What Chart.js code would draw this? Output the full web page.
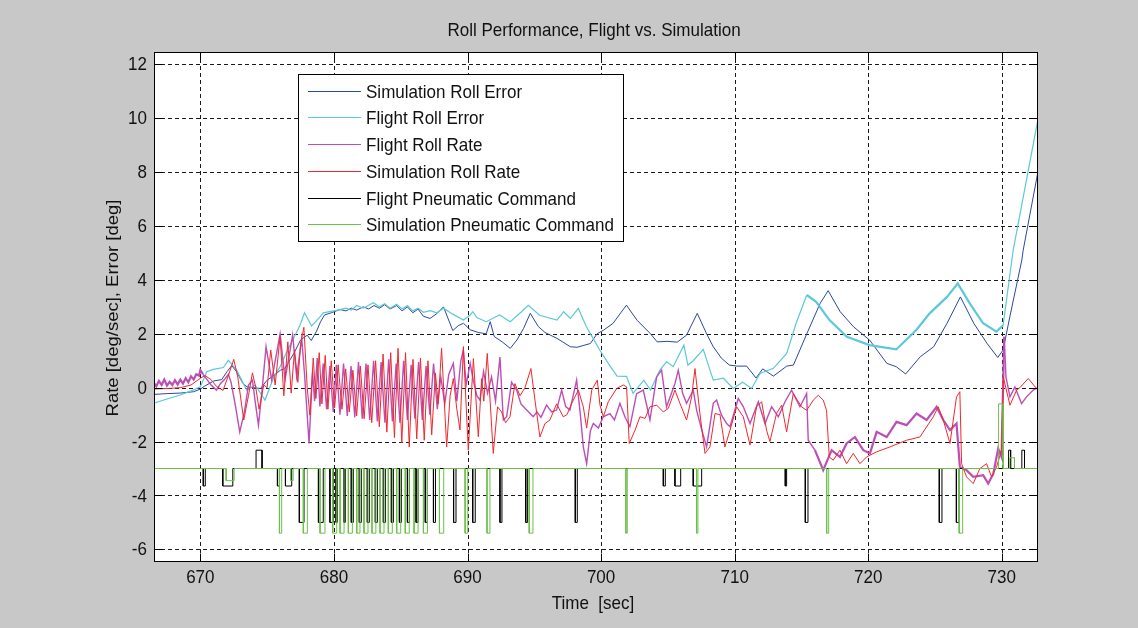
<!DOCTYPE html>
<html>
<head>
<meta charset="utf-8">
<script src="https://cdn.jsdelivr.net/npm/chart.js@4.4.0/dist/chart.umd.min.js"></script>
<style>
  html, body { margin: 0; padding: 0; background: #c8c8c8; }
  #wrap { width: 1138px; height: 628px; }
</style>
</head>
<body>
<div id="wrap"><canvas id="rollChart" width="1138" height="628"></canvas></div>
<script>
// --- data (time [sec], value) ---
const xTicks = [670, 680, 690, 700, 710, 720, 730];
const yTicks = [-6, -4, -2, 0, 2, 4, 6, 8, 10, 12];

const simRollError = [
  [666.5,-0.25],[667.5,-0.22],[668.5,-0.2],[669.5,-0.15],[670.0,-0.05],[670.3,0.05],[671.0,0.25],[671.6,0.3],
  [672.0,0.6],[672.35,0.82],[672.7,0.6],[673.2,0.15],[673.5,0.03],[674.0,0.0],[674.5,-0.03],[675.0,0.28],
  [675.5,0.45],[676.0,0.65],[676.3,0.7],[677.0,1.27],[677.5,1.77],[678.0,1.95],[678.3,1.75],[678.7,2.1],
  [679.0,2.45],[679.3,2.7],[679.8,2.78],[680.45,2.9],[680.9,2.85],[681.3,2.95],[681.7,2.88],[682.2,3.0],
  [682.6,2.92],[683.0,3.05],[683.4,2.95],[683.8,3.08],[684.2,2.92],[684.7,3.05],[685.1,2.85],[685.5,3.0],
  [685.9,2.78],[686.3,2.92],[686.7,2.65],[687.2,2.57],[687.7,2.75],[688.2,3.0],[688.9,2.12],[689.3,2.3],
  [689.7,2.39],[690.2,2.15],[690.8,2.05],[691.4,2.0],[691.7,2.45],[692.0,1.9],[692.6,1.7],[693.2,1.46],
  [693.7,1.77],[694.2,2.2],[694.7,2.76],[695.3,2.27],[695.8,2.05],[696.7,1.83],[697.7,1.52],[698.2,1.5],
  [699.2,1.64],[699.7,2.0],[700.2,2.14],[700.9,2.39],[701.5,2.8],[701.9,3.06],[702.7,2.5],[703.7,2.0],
  [704.2,1.7],[705.0,1.72],[705.7,1.69],[706.4,1.95],[707.2,2.76],[707.9,2.0],[708.4,1.52],[709.0,1.1],
  [709.6,0.84],[710.2,0.8],[710.9,0.8],[711.6,0.36],[712.1,0.7],[712.9,0.43],[713.9,0.8],[714.4,0.84],
  [715.4,2.0],[716.4,3.13],[717.0,3.6],[717.9,2.82],[718.9,2.26],[720.1,1.77],[721.4,0.9],[722.1,0.78],
  [722.8,0.51],[723.9,1.15],[724.9,1.52],[725.9,2.39],[726.9,3.37],[727.9,2.39],[728.9,1.64],[729.7,1.12],
  [730.1,1.4],[730.6,2.63],[731.5,4.74],[731.6,5.1],[732.7,8.0]
];

const flightRollError = [
  [666.5,-0.58],[667.5,-0.42],[668.5,-0.27],[669.5,-0.08],[670.0,0.03],[670.48,0.59],[670.97,0.68],[671.72,0.75],
  [672.1,1.02],[672.72,0.65],[673.47,-0.09],[674.1,0.1],[674.84,-0.46],[675.46,0.35],[675.97,0.78],[676.59,1.46],
  [677.09,1.95],[677.46,2.32],[677.8,2.78],[678.33,2.29],[678.96,2.63],[679.2,2.78],[680.46,2.9],[680.9,2.95],
  [681.3,2.88],[681.7,3.05],[682.2,2.95],[682.95,3.15],[683.4,3.0],[683.8,3.12],[684.2,2.95],[684.7,3.1],
  [685.1,2.92],[685.5,3.05],[685.9,2.85],[686.3,2.95],[686.7,2.8],[687.2,2.86],[687.7,2.78],[688.2,2.95],
  [688.9,2.73],[689.7,2.51],[690.2,2.7],[690.4,2.82],[690.7,2.6],[691.4,2.45],[692.4,2.7],[693.2,2.45],
  [694.0,2.8],[694.55,3.06],[695.4,2.69],[696.7,2.51],[697.2,2.82],[697.7,2.57],[698.3,2.94],[698.9,2.26],
  [699.4,1.83],[699.9,1.4],[700.7,0.78],[701.2,0.43],[701.9,0.42],[702.4,-0.21],[703.2,0.28],[703.7,-0.09],
  [704.4,0.65],[704.9,0.96],[705.4,0.78],[706.2,1.58],[706.5,0.84],[706.9,1.0],[707.65,1.42],[708.4,0.28],
  [709.15,0.35],[709.9,-0.03],[710.6,0.2],[711.27,-0.03],[711.9,0.53],[712.9,0.72],[713.9,1.27],[714.6,2.39],
  [715.4,3.44],[716.1,3.19],[717.1,2.51],[718.4,1.89],[720.1,1.58],[722.1,1.42],[723.6,2.14],[724.6,2.76],
  [725.9,3.37],[726.7,3.87],[727.6,3.13],[728.6,2.39],[729.6,2.08],[730.1,2.32],[730.85,5.1],[732.7,9.95]
];

const flightRollRate = [
  [666.5,0.2],[666.7,0.05],[666.9,0.25],[667.1,0.1],[667.3,0.3],[667.5,0.08],[667.7,0.22],[667.9,0.1],
  [668.1,0.28],[668.3,0.12],[668.5,0.3],[668.7,0.15],[668.9,0.35],[669.1,0.2],[669.3,0.42],[669.5,0.3],
  [669.7,0.5],[669.9,0.45],[670.0,0.65],[670.2,0.5],[670.5,0.3],[670.8,0.1],[671.2,-0.09],[671.5,0.15],
  [671.8,0.3],[672.1,0.5],[672.3,0.2],[672.6,-0.6],[672.95,-1.64],[673.3,-0.9],[673.6,0.1],[673.9,0.28],
  [674.1,-0.5],[674.35,-1.39],[674.6,-0.2],[674.92,1.52],[675.34,0.28],[675.97,2.0],[676.34,0.3],[676.91,1.95],
  [677.21,0.4],[677.59,1.83],[677.8,0.5],[678.14,-2.07],[678.4,0.6],[678.55,-0.5],[678.75,1.1],[678.95,-0.7],
  [679.2,0.9],[679.45,-0.8],[679.7,0.8],[679.95,-0.9],[680.18,0.85],[680.45,-1.0],[680.72,0.9],[681.0,-1.05],
  [681.28,0.8],[681.56,-1.1],[681.84,0.95],[682.12,-1.15],[682.4,0.9],[682.68,-1.2],[682.97,1.0],[683.25,-1.25],
  [683.53,0.95],[683.82,-1.3],[684.1,1.05],[684.38,-1.25],[684.66,0.9],[684.94,-1.3],[685.22,1.0],[685.5,-1.2],
  [685.78,0.85],[686.06,-1.15],[686.34,0.95],[686.62,-1.2],[686.9,0.8],[687.18,-1.0],[687.46,0.9],[687.74,-0.8],
  [688.0,0.4],[688.3,-0.6],[688.6,0.5],[688.94,0.9],[689.2,-0.5],[689.5,1.0],[689.69,1.4],[689.9,0.1],
  [690.2,0.9],[690.43,0.28],[690.7,-0.3],[690.93,-0.46],[691.2,0.6],[691.5,-0.2],[691.8,0.4],[692.1,-0.5],
  [692.43,1.14],[692.68,-1.2],[692.93,-1.08],[693.3,0.2],[693.68,-0.09],[694.0,-0.6],[694.43,-0.83],[694.92,-1.08],
  [695.2,-0.9],[695.5,-1.1],[695.92,-0.65],[696.3,-0.9],[696.67,-0.83],[697.05,-0.09],[697.35,-0.7],[697.67,-0.83],
  [698.17,0.28],[698.45,-1.0],[698.67,-2.2],[698.92,-2.82],[699.2,-1.6],[699.42,-1.33],[699.8,-1.5],[700.16,-1.08],
  [700.66,-0.96],[701.0,-1.2],[701.41,-0.58],[701.8,-1.1],[702.16,-1.45],[702.66,-0.22],[703.16,-0.09],[703.66,-1.2],
  [704.16,0.4],[704.53,0.65],[704.9,-0.71],[705.2,-0.3],[705.53,0.15],[705.78,0.65],[706.1,-0.2],[706.4,-0.58],
  [706.9,-0.09],[707.15,-0.83],[707.5,-1.5],[707.9,-2.2],[708.4,-0.58],[708.65,-0.46],[709.0,-1.0],[709.4,-1.33],
  [709.65,-1.45],[710.27,-0.4],[710.65,-0.71],[711.15,-1.33],[711.77,-0.52],[712.27,-1.33],[712.77,-0.71],[713.27,-1.08],
  [713.77,-0.52],[714.26,-0.09],[714.89,-0.71],[715.39,-0.22],[715.51,-1.95],[716.01,-2.32],[716.63,-3.06],[717.26,-2.32],
  [717.88,-2.57],[718.38,-2.07],[719.0,-1.83],[719.63,-2.32],[720.13,-2.44],[720.63,-1.64],[721.38,-1.83],[722.12,-1.27],
  [722.87,-1.39],[723.62,-0.96],[724.37,-1.2],[725.12,-0.71],[725.62,-1.2],[726.12,-1.57],[726.61,-1.33],[726.86,-2.94],
  [727.36,-3.06],[727.86,-3.31],[728.61,-3.25],[728.98,-3.56],[729.36,-3.2],[729.73,-2.26],[729.98,-2.57],[730.18,1.89],
  [730.31,0.4],[730.61,-0.34],[730.98,0.03],[731.48,-0.59],[731.85,-0.34],[732.35,-0.09],[732.7,0.0]
];

const simRollRate = [
  [666.5,-0.05],[667.5,-0.03],[668.5,0.0],[669.3,0.1],[670.0,0.35],[670.35,0.45],[670.8,0.3],[671.2,0.05],
  [671.7,-0.1],[672.1,0.45],[672.5,1.05],[672.8,0.4],[673.25,-1.2],[673.6,-0.3],[673.9,0.55],[674.15,0.0],
  [674.4,-0.8],[674.75,0.1],[675.0,0.0],[675.27,1.4],[675.6,0.1],[675.97,1.9],[676.25,-0.3],[676.55,1.7],
  [676.8,-0.2],[677.05,1.4],[677.3,0.2],[677.5,1.6],[677.75,2.24],[678.0,0.0],[678.2,-1.02],[678.45,1.1],
  [678.65,-0.4],[678.9,1.3],[679.1,-0.6],[679.35,1.2],[679.55,-0.8],[679.8,1.0],[680.05,-0.75],[680.32,0.85],
  [680.6,-0.8],[680.88,0.7],[681.15,-0.9],[681.42,0.65],[681.7,-1.05],[681.98,0.8],[682.26,-1.15],[682.55,0.85],
  [682.83,-1.3],[683.12,1.0],[683.4,-1.45],[683.68,1.25],[683.96,-1.65],[684.25,1.3],[684.53,-1.85],[684.8,1.46],
  [685.08,-2.05],[685.36,1.3],[685.64,-2.2],[685.92,1.05],[686.2,-1.9],[686.48,1.1],[686.76,-1.95],[687.04,1.0],
  [687.32,-1.75],[687.6,0.55],[687.8,-0.6],[688.06,1.46],[688.44,-2.2],[688.7,-0.3],[688.94,0.34],[689.2,-0.8],
  [689.44,-1.57],[689.69,1.52],[690.06,-2.32],[690.44,1.08],[690.81,-1.82],[691.06,0.34],[691.22,-0.5],[691.48,1.27],
  [691.93,-2.44],[692.25,-0.71],[692.55,-0.9],[692.85,-1.3],[693.18,-1.08],[693.55,0.15],[693.93,-0.3],[694.3,0.0],
  [694.75,0.71],[695.05,-0.46],[695.42,-1.83],[695.8,-1.33],[696.17,-1.2],[696.67,-0.6],[697.17,-1.08],[697.45,-1.0],
  [697.8,-0.58],[698.3,-0.09],[698.67,-0.71],[698.92,-1.5],[699.3,-0.09],[699.72,0.28],[699.92,-0.65],[700.17,-1.08],
  [700.54,-0.52],[701.17,-0.03],[701.66,0.1],[701.91,0.03],[702.11,-2.07],[702.54,-1.58],[702.91,-1.08],[703.29,-1.14],
  [703.66,-0.71],[704.16,-0.65],[704.66,-0.9],[705.03,-0.77],[705.53,-0.09],[705.91,-0.59],[706.4,-1.2],[706.78,-0.34],
  [707.03,0.71],[707.4,-0.96],[707.78,-2.44],[708.15,-2.2],[708.53,-0.96],[708.9,-1.0],[709.27,-2.2],[709.65,-1.58],
  [710.15,-0.71],[710.65,-1.08],[711.15,-2.13],[711.64,-0.71],[712.02,-0.52],[712.39,-1.58],[712.64,-2.0],[713.14,-0.95],
  [713.52,-0.65],[713.89,-1.64],[714.39,-0.22],[715.01,-0.71],[715.39,-0.84],[715.89,-0.46],[716.26,-0.28],[716.63,-0.46],
  [716.88,-0.84],[717.08,-2.57],[717.38,-2.69],[717.88,-2.32],[718.38,-2.82],[718.88,-2.44],[719.38,-2.82],[719.88,-2.57],
  [720.63,-2.38],[721.62,-2.2],[722.87,-1.95],[723.87,-1.83],[724.87,-1.08],[725.24,-0.71],[725.62,-1.2],[726.12,-2.07],
  [726.61,-0.34],[726.86,-0.15],[726.99,-2.82],[727.36,-3.31],[727.86,-3.56],[728.36,-3.0],[728.86,-2.82],[729.23,-3.31],
  [729.61,-2.94],[729.98,-2.32],[730.11,0.4],[730.61,-0.65],[731.11,-0.09],[731.35,0.0],[731.98,0.34],[732.7,-0.09]
];

// pneumatic commands: baseline level plus pulses [start, end, level]
const cmdBase = -3;
const cmdSpan = [666.5, 732.7];
const flightCmdPulses = [
  [670.22,670.37,-3.65],[671.68,672.43,-3.65],[674.17,674.62,-2.32],[675.77,675.92,-3.65],[676.37,676.84,-3.65],
  [677.41,677.76,-5.0],[678.84,679.2,-5.0],[679.7,679.95,-5.0],[680.16,680.25,-5.0],[680.76,680.85,-5.0],
  [681.3,681.45,-5.0],[681.9,682.05,-5.0],[682.5,682.65,-5.0],[683.1,683.25,-5.0],[683.7,683.85,-5.0],
  [684.3,684.45,-5.0],[684.9,685.05,-5.0],[685.5,685.65,-5.0],[686.15,686.3,-5.0],[686.84,686.99,-5.0],
  [687.45,687.6,-5.0],[688.96,689.14,-5.0],[690.39,690.58,-5.0],[692.43,692.58,-5.0],[694.36,694.5,-5.0],
  [698.07,698.22,-5.0],[704.66,704.81,-3.65],[705.53,705.96,-3.65],[706.9,707.53,-3.65],[713.79,713.89,-3.65],
  [715.29,715.49,-5.0],[725.32,725.52,-5.0],[726.6,726.8,-5.0],[730.51,730.66,-2.32],[731.5,731.7,-2.32]
];
const simCmdPulses = [
  [671.93,672.53,-3.45],[675.92,676.09,-5.4],[676.75,676.95,-3.45],[677.71,678.01,-5.4],[678.96,679.33,-5.4],
  [679.91,680.21,-5.4],[680.46,680.76,-5.4],[681.08,681.38,-5.4],[681.71,681.95,-5.4],[682.25,682.55,-5.4],
  [682.85,683.14,-5.4],[683.45,683.75,-5.4],[684.07,684.37,-5.4],[684.7,685.0,-5.4],[685.34,685.64,-5.4],
  [686.0,686.3,-5.4],[686.7,687.0,-5.4],[687.9,688.22,-5.4],[689.82,690.02,-5.4],[691.46,691.68,-5.4],
  [694.62,694.9,-5.4],[701.86,701.96,-5.4],[707.15,707.25,-5.4],[716.89,717.04,-5.4],[726.81,727.07,-5.4],
  [729.76,730.1,-0.6],[730.6,730.95,-2.6]
];

const FONT = '"Liberation Sans", Arial, Helvetica, sans-serif';
const FONT_SIZE = 18.5;
const SQUEEZE = 0.92; // the source text is a little narrow

const toXY = arr => arr.map(([x, y]) => ({ x, y }));

// turn the pulse list into a square-wave line
function pulseLine(pulses) {
  const pts = [{ x: cmdSpan[0], y: cmdBase }];
  pulses.forEach(([t0, t1, v]) => {
    pts.push({ x: t0, y: cmdBase }, { x: t0, y: v }, { x: t1, y: v }, { x: t1, y: cmdBase });
  });
  pts.push({ x: cmdSpan[1], y: cmdBase });
  return pts;
}

function lineSet(label, data, color, order, width) {
  return {
    label, data, order,
    borderColor: color,
    backgroundColor: color,
    borderWidth: width || 1,
    pointRadius: 0,
    tension: 0,
    fill: false
  };
}

// noisy stretches of the measured signals look thicker
const noisyWidth = (ranges, thick) => ctx => {
  const t = ctx.p0.parsed.x;
  return ranges.some(([a, b]) => t >= a && t <= b) ? thick : undefined;
};

const datasets = [
  lineSet('Simulation Roll Error', toXY(simRollError), '#2d48a0', 6),
  lineSet('Flight Roll Error', toXY(flightRollError), '#5cc8d8', 5, 1.2),
  lineSet('Flight Roll Rate', toXY(flightRollRate), '#bb4fb6', 4, 1.4),
  lineSet('Simulation Roll Rate', toXY(simRollRate), '#f0282d', 3),
  lineSet('Flight Pneumatic Command', pulseLine(flightCmdPulses), '#000000', 2),
  lineSet('Simulation Pneumatic Command', pulseLine(simCmdPulses), '#6cc04a', 1)
];
datasets[1].segment = { borderWidth: noisyWidth([[715, 730]], 2.2) };
datasets[2].segment = { borderWidth: noisyWidth([[666.5, 670], [716, 730]], 2.2) };

function squeezedText(ctx, text, x, y, align) {
  ctx.save();
  ctx.translate(x, y);
  ctx.scale(SQUEEZE, 1);
  ctx.font = FONT_SIZE + 'px ' + FONT;
  ctx.textAlign = align;
  ctx.textBaseline = 'middle';
  ctx.fillText(text, 0, 0);
  ctx.restore();
}

// matlab-like frame: gray figure, white axes, dotted grid, inward ticks, boxed legend
const matlabAxes = {
  id: 'matlabAxes',
  beforeDraw(c) {
    const { ctx, chartArea: a } = c;
    ctx.save();
    ctx.fillStyle = '#c8c8c8';
    ctx.fillRect(0, 0, c.width, c.height);
    ctx.fillStyle = '#ffffff';
    ctx.fillRect(a.left, a.top, a.right - a.left, a.bottom - a.top);
    ctx.restore();
  },
  beforeDatasetsDraw(c) {
    const { ctx, chartArea: a, scales } = c;
    ctx.save();
    ctx.strokeStyle = '#1a1a1a';
    ctx.lineWidth = 1;
    ctx.setLineDash([4, 3]);
    xTicks.forEach(v => {
      const x = Math.round(scales.x.getPixelForValue(v)) + 0.5;
      ctx.beginPath(); ctx.moveTo(x, a.top); ctx.lineTo(x, a.bottom); ctx.stroke();
    });
    yTicks.forEach(v => {
      const y = Math.round(scales.y.getPixelForValue(v)) + 0.5;
      ctx.beginPath(); ctx.moveTo(a.left, y); ctx.lineTo(a.right, y); ctx.stroke();
    });
    ctx.restore();
  },
  afterDatasetsDraw(c) {
    const { ctx, chartArea: a, scales } = c;
    ctx.save();
    ctx.strokeStyle = '#000';
    ctx.lineWidth = 1;
    ctx.setLineDash([]);
    const L = Math.round(a.left) + 0.5, R = Math.round(a.right) - 0.5;
    const T = Math.round(a.top) + 0.5, B = Math.round(a.bottom) - 0.5;
    ctx.strokeRect(L, T, R - L, B - T);
    const tl = 8;
    ctx.beginPath();
    xTicks.forEach(v => {
      const x = Math.round(scales.x.getPixelForValue(v)) + 0.5;
      ctx.moveTo(x, B); ctx.lineTo(x, B - tl);
      ctx.moveTo(x, T); ctx.lineTo(x, T + tl);
    });
    yTicks.forEach(v => {
      const y = Math.round(scales.y.getPixelForValue(v)) + 0.5;
      ctx.moveTo(L, y); ctx.lineTo(L + tl, y);
      ctx.moveTo(R, y); ctx.lineTo(R - tl, y);
    });
    ctx.stroke();

    // legend box
    const lx = 298.5, ly = 74.5, lw = 325, lh = 167;
    ctx.fillStyle = '#ffffff';
    ctx.fillRect(lx, ly, lw, lh);
    ctx.strokeStyle = '#000';
    ctx.strokeRect(lx, ly, lw, lh);
    c.data.datasets.forEach((ds, i) => {
      const y = Math.round(90.7 + i * 26.7) + 0.5;
      ctx.strokeStyle = ds.borderColor;
      ctx.lineWidth = 1;
      ctx.beginPath(); ctx.moveTo(308, y); ctx.lineTo(361, y); ctx.stroke();
      ctx.fillStyle = '#111';
      squeezedText(ctx, ds.label, 366, y + 1, 'left');
    });
    ctx.restore();
  },
  afterDraw(c) {
    const { ctx, scales } = c;
    ctx.save();
    ctx.fillStyle = '#111';
    squeezedText(ctx, 'Roll Performance, Flight vs. Simulation', 594, 31, 'center');
    xTicks.forEach(v => squeezedText(ctx, String(v), scales.x.getPixelForValue(v), 578, 'center'));
    yTicks.forEach(v => squeezedText(ctx, String(v), 147, scales.y.getPixelForValue(v) + 1, 'right'));
    squeezedText(ctx, 'Time  [sec]', 593, 604, 'center');
    ctx.translate(113, 308);
    ctx.rotate(-Math.PI / 2);
    ctx.scale(1, SQUEEZE);
    ctx.font = FONT_SIZE + 'px ' + FONT;
    ctx.textAlign = 'center';
    ctx.textBaseline = 'middle';
    ctx.fillText('Rate [deg/sec], Error [deg]', 0, 0);
    ctx.restore();
  }
};

const ctxChart = document.getElementById('rollChart').getContext('2d');

const rollChart = new Chart(ctxChart, {
  type: 'line',
  data: { datasets },
  options: {
    responsive: false,
    animation: false,
    events: [],
    layout: { padding: { top: 52, right: 100, left: 0, bottom: 0 } },
    plugins: {
      legend: { display: false },
      title: { display: false },
      tooltip: { enabled: false }
    },
    scales: {
      x: {
        type: 'linear',
        min: 666.53,
        max: 732.71,
        afterBuildTicks: s => { s.ticks = xTicks.map(v => ({ value: v })); },
        afterFit: s => { s.height = 66; },
        grid: { display: false, drawTicks: false },
        border: { display: false },
        ticks: { display: false }
      },
      y: {
        type: 'linear',
        min: -6.47,
        max: 12.46,
        afterBuildTicks: s => { s.ticks = yTicks.map(v => ({ value: v })); },
        afterFit: s => { s.width = 154; },
        grid: { display: false, drawTicks: false },
        border: { display: false },
        ticks: { display: false }
      }
    }
  },
  plugins: [matlabAxes]
});
</script>
</body>
</html>
